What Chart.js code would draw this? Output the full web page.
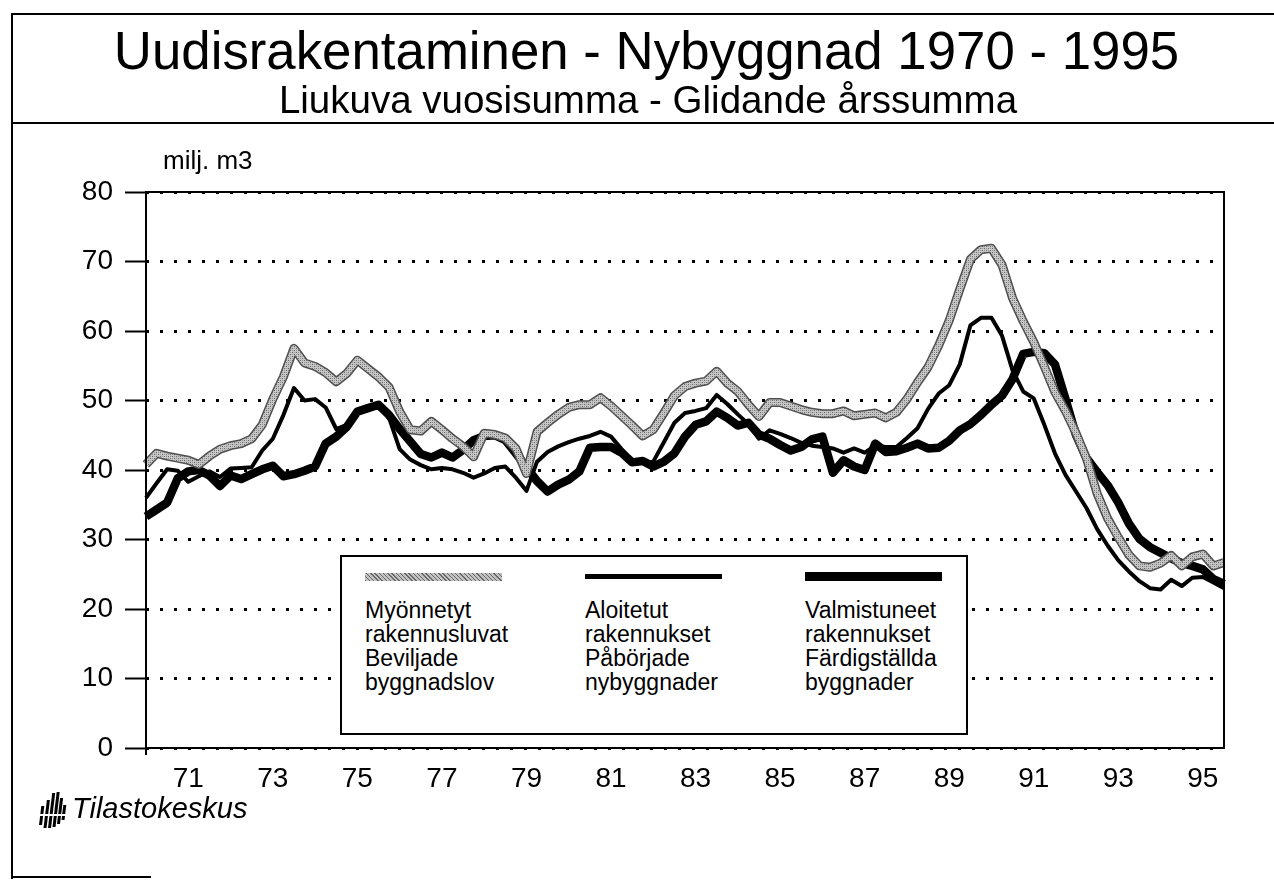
<!DOCTYPE html>
<html lang="fi">
<head>
<meta charset="UTF-8">
<title>Uudisrakentaminen - Nybyggnad 1970 - 1995</title>
<script src="https://cdn.jsdelivr.net/npm/chart.js"></script>
<style>
  html, body { margin: 0; padding: 0; background: #fff; }
  body { width: 1274px; height: 880px; position: relative; overflow: hidden;
         font-family: "Liberation Sans", Arial, Helvetica, sans-serif; color: #000; }
  #chart { position: absolute; left: 0; top: 0; }
  .rule { position: absolute; background: #000; }
  .txt { position: absolute; white-space: nowrap; line-height: 1; }
  #title { left: 0; width: 1293px; text-align: center; top: 25px; font-size: 52.8px; }
  #subtitle { left: 0; width: 1296px; text-align: center; top: 81px; font-size: 38.5px; }
  #unit { left: 163px; top: 147px; font-size: 26px; }
  #footer { left: 72px; top: 794px; font-size: 29px; font-style: italic; }
  #logo { position: absolute; left: 38px; top: 790px; }
  #legend { position: absolute; left: 340px; top: 555px; width: 628px; height: 180px;
            box-sizing: border-box; border: 2px solid #000; background: #fff; }
  .col { position: absolute; top: 0; width: 200px; height: 170px; }
  .sw { position: absolute; left: 0; width: 137px; }
  .lab { position: absolute; left: 0; top: 41px; font-size: 23px; line-height: 24px; white-space: nowrap; }
</style>
</head>
<body>

<canvas id="chart" width="1274" height="880"></canvas>

<div class="rule" style="left:11px; top:13px; width:2px; height:866px;"></div>
<div class="rule" style="left:11px; top:13px; width:1263px; height:2px;"></div>
<div class="rule" style="left:11px; top:122px; width:1263px; height:2px;"></div>
<div class="rule" style="left:11px; top:876px; width:140px; height:2px;"></div>

<div class="txt" id="title">Uudisrakentaminen - Nybyggnad 1970 - 1995</div>
<div class="txt" id="subtitle">Liukuva vuosisumma - Glidande årssumma</div>
<div class="txt" id="unit">milj. m3</div>

<div id="legend">
    <div class="col" style="left:23px;">
        <div class="sw" style="top:16px; height:8px; background:repeating-linear-gradient(45deg, #6a6a6a 0 1px, #c2c2c2 1px 3px);"></div>
        <div class="lab">Myönnetyt<br>rakennusluvat<br>Beviljade<br>byggnadslov</div>
    </div>
    <div class="col" style="left:243px;">
        <div class="sw" style="top:17px; height:5px; background:#000;"></div>
        <div class="lab">Aloitetut<br>rakennukset<br>Påbörjade<br>nybyggnader</div>
    </div>
    <div class="col" style="left:463px;">
        <div class="sw" style="top:15px; height:9px; background:#000;"></div>
        <div class="lab">Valmistuneet<br>rakennukset<br>Färdigställda<br>byggnader</div>
    </div>
</div>

<svg id="logo" width="30" height="40" viewBox="0 0 30 40">
    <g fill="#000">
        <polygon points="1,35 4,35 6.3,16 3.3,16"/>
        <polygon points="5.5,38 8.5,38 11.9,10 8.9,10"/>
        <polygon points="10,38 13,38 17.2,3 14.2,3"/>
        <polygon points="14.5,37 17.5,37 21.7,2 18.7,2"/>
        <polygon points="19,34 22,34 25.1,8 22.1,8"/>
        <polygon points="23.5,30 26.5,30 28.3,15 25.3,15"/>
    </g>
    <rect x="0" y="24" width="30" height="2" fill="#fff"/>
</svg>
<div class="txt" id="footer">Tilastokeskus</div>

<script>
    // moving annual sums, quarterly from 1970Q1 to 1995Q3 (milj. m3)
    const quarters = [];
    for (let y = 1970; y <= 1995; y++) {
        for (let q = 1; q <= 4; q++) quarters.push(y + 'Q' + q);
    }
    quarters.length = 103;

    const tickYears = ['71', '73', '75', '77', '79', '81', '83', '85', '87', '89', '91', '93', '95'];

    // Myönnetyt rakennusluvat / Beviljade byggnadslov
    const permits = [
        40.8, 42.4, 42.0, 41.7, 41.4, 40.8, 42.0, 43.0, 43.5, 43.8,
        44.5, 46.5, 50.2, 53.4, 57.5, 55.4, 54.9, 54.0, 52.7, 53.9,
        55.8, 54.6, 53.4, 51.9, 48.4, 45.8, 45.6, 47.0, 45.8, 44.5,
        43.4, 41.9, 45.3, 45.1, 44.6, 43.1, 39.5, 45.5, 46.8, 48.0,
        49.0, 49.4, 49.4, 50.4, 49.2, 47.8, 46.4, 44.9, 45.8, 48.2,
        50.7, 52.0, 52.5, 52.8, 54.2, 52.5, 51.3, 49.4, 47.7, 49.7,
        49.7, 49.2, 48.7, 48.3, 48.1, 48.1, 48.5, 47.8, 48.0, 48.2,
        47.5, 48.3, 50.2, 52.6, 54.8, 57.9, 61.5, 66.0, 70.3, 71.7,
        71.9, 69.5, 64.7, 61.4, 58.4, 54.9, 51.2, 48.5, 45.3, 41.6,
        36.6, 33.0, 30.3, 27.8, 26.2, 26.0, 26.6, 27.7, 26.2, 27.5,
        27.9, 26.2, 26.7
    ];

    // Aloitetut rakennukset / Påbörjade nybyggnader
    const starts = [
        36.0, 38.1, 40.1, 39.9, 38.3, 39.1, 39.8, 39.0, 40.2, 40.3,
        40.4, 42.8, 44.5, 47.9, 51.8, 50.0, 50.2, 49.0, 45.9, 46.5,
        48.5, 49.0, 49.0, 47.5, 43.0, 41.5, 40.7, 40.1, 40.3, 40.1,
        39.6, 38.9, 39.5, 40.3, 40.5, 38.9, 37.0, 41.2, 42.6, 43.4,
        44.0, 44.5, 44.9, 45.5, 44.8, 43.0, 41.3, 41.0, 41.2, 44.0,
        46.8, 48.2, 48.5, 48.9, 50.8, 49.5, 48.0, 46.6, 44.5, 45.7,
        45.2, 44.6, 43.9, 43.5, 43.3, 43.1, 42.5, 43.1, 42.5, 43.5,
        43.3, 43.3, 44.6, 46.0, 48.8, 51.0, 52.2, 55.2, 60.8, 61.9,
        61.9, 59.3, 54.3, 51.3, 50.3, 46.5, 42.4, 39.3, 36.9, 34.5,
        31.5, 29.1, 27.0, 25.4, 24.0, 23.0, 22.8, 24.2, 23.3, 24.5,
        24.6, 23.8, 23.0
    ];

    // Valmistuneet rakennukset / Färdigställda byggnader
    const completions = [
        33.3, 34.3, 35.3, 38.8, 39.8, 40.0, 39.2, 37.7, 39.2, 38.7,
        39.4, 40.1, 40.6, 39.1, 39.4, 39.9, 40.5, 43.8, 44.8, 46.2,
        48.4, 48.9, 49.4, 47.9, 45.9, 44.1, 42.3, 41.8, 42.5, 41.8,
        42.9, 44.3, 44.9, 45.0, 44.3, 42.4, 40.4, 38.4, 36.9, 37.9,
        38.6, 39.8, 43.2, 43.3, 43.3, 42.5, 41.1, 41.3, 40.5, 41.2,
        42.4, 44.8, 46.5, 47.0, 48.4, 47.5, 46.4, 46.8, 45.1, 44.5,
        43.6, 42.8, 43.3, 44.4, 44.8, 39.6, 41.4, 40.5, 40.0, 43.8,
        42.6, 42.7, 43.2, 43.8, 43.1, 43.2, 44.2, 45.7, 46.6, 47.9,
        49.4, 50.7, 53.1, 56.7, 57.0, 56.8, 55.2, 50.2, 45.0, 41.7,
        39.7, 37.8, 35.3, 32.3, 30.1, 28.9, 28.1, 27.3, 26.6, 26.2,
        25.7, 24.3, 23.6
    ];

    const fontFamily = '"Liberation Sans", Arial, Helvetica, sans-serif';

    // halftone look for the grey line
    function makeHalftone() {
        const pc = document.createElement('canvas');
        pc.width = 4; pc.height = 4;
        const p = pc.getContext('2d');
        p.fillStyle = '#c6c6c6';
        p.fillRect(0, 0, 4, 4);
        p.fillStyle = '#6a6a6a';
        p.fillRect(0, 0, 1, 1);
        p.fillRect(2, 2, 1, 1);
        p.fillStyle = '#959595';
        p.fillRect(2, 0, 1, 1);
        p.fillRect(0, 2, 1, 1);
        return p.createPattern(pc, 'repeat');
    }

    // solid frame round the plot area, plus the small tick under the y axis
    const framePlugin = {
        id: 'frame',
        afterDraw(chart) {
            const { ctx, chartArea: a } = chart;
            ctx.save();
            ctx.strokeStyle = '#000';
            ctx.lineWidth = 2;
            ctx.strokeRect(a.left, a.top, a.right - a.left, a.bottom - a.top);
            ctx.beginPath();
            ctx.moveTo(a.left, a.bottom);
            ctx.lineTo(a.left, a.bottom + 7);
            ctx.stroke();
            ctx.restore();
        }
    };

    const ctx = document.getElementById('chart').getContext('2d');
    new Chart(ctx, {
        type: 'line',
        data: {
            labels: quarters,
            datasets: [{
                label: 'Myönnetyt rakennusluvat',
                data: permits,
                borderColor: makeHalftone(),
                borderWidth: 6
            }, {
                label: 'edge',
                data: permits,
                borderColor: '#505050',
                borderWidth: 9
            }, {
                label: 'Aloitetut rakennukset',
                data: starts,
                borderColor: '#000',
                borderWidth: 4
            }, {
                label: 'Valmistuneet rakennukset',
                data: completions,
                borderColor: '#000',
                borderWidth: 8.5
            }]
        },
        options: {
            responsive: false,
            animation: false,
            layout: { padding: { left: 0, top: 192, right: 50, bottom: 82 } },
            plugins: {
                legend: { display: false },
                tooltip: { enabled: false }
            },
            elements: {
                point: { radius: 0 },
                line: { tension: 0, borderJoinStyle: 'round', fill: false }
            },
            scales: {
                x: {
                    type: 'category',
                    offset: false,
                    grid: { display: false, drawTicks: false },
                    border: { display: false },
                    ticks: {
                        autoSkip: false,
                        maxRotation: 0,
                        minRotation: 0,
                        padding: 14,
                        color: '#000',
                        font: { size: 28, family: fontFamily },
                        callback: function (value, index) {
                            const lab = quarters[index];
                            const yy = lab.slice(2, 4);
                            return (lab.endsWith('Q1') && tickYears.includes(yy)) ? yy : '';
                        }
                    },
                    afterFit: function (scale) { scale.height = 50; }
                },
                y: {
                    min: 0,
                    max: 80,
                    ticks: {
                        stepSize: 10,
                        padding: 12,
                        color: '#000',
                        font: { size: 28, family: fontFamily }
                    },
                    grid: {
                        color: '#000',
                        lineWidth: 3,
                        drawTicks: true,
                        tickLength: 21,
                        tickColor: '#000',
                        tickWidth: 2
                    },
                    border: { display: false, dash: [3, 11] },
                    afterFit: function (scale) { scale.width = 146; }
                }
            }
        },
        plugins: [framePlugin]
    });
</script>

</body>
</html>
